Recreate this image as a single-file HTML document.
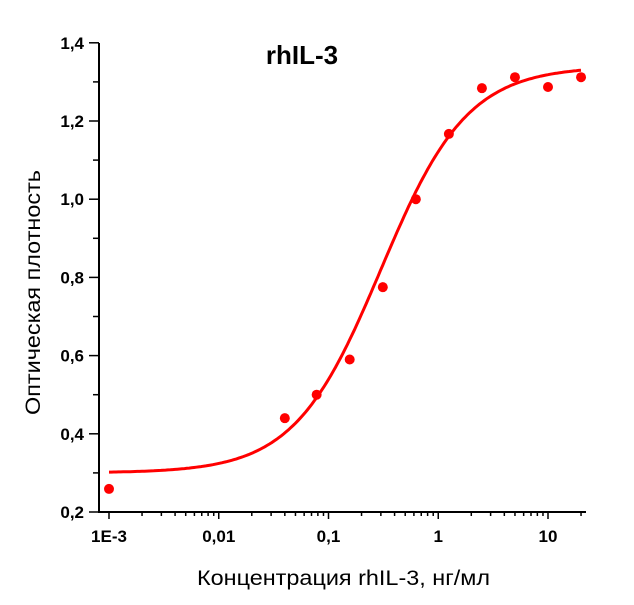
<!DOCTYPE html>
<html><head><meta charset="utf-8"><style>
body{margin:0;background:#fff;}
svg text{font-family:"Liberation Sans",Arial,sans-serif;}
</style></head><body>
<svg id="chart" width="634" height="600" xmlns="http://www.w3.org/2000/svg">
<text x="302" y="64" font-size="26" font-weight="bold" text-anchor="middle">rhIL-3</text>
<text x="197" y="585" font-size="21" textLength="293" lengthAdjust="spacingAndGlyphs">Концентрация rhIL-3, нг/мл</text>
<text transform="translate(40,415) rotate(-90)" font-size="21" textLength="245" lengthAdjust="spacingAndGlyphs">Оптическая плотность</text>
<g id="axes"></g><g id="marks"></g>
</svg>
<script>
const xConc=[0.001,0.04,0.078,0.156,0.3125,0.625,1.25,2.5,5,10,20];
const yOD=[0.259,0.44,0.50,0.59,0.775,1.0,1.167,1.284,1.312,1.287,1.312];
const fitBottom=0.30, fitTop=1.34, fitEC50=0.30, fitHill=1.1;
const xTicks=[0.001,0.01,0.1,1,10];
const xTickLabels=["1E-3","0,01","0,1","1","10"];
const yTicks=[0.2,0.4,0.6,0.8,1.0,1.2,1.4];
const yTickLabels=["0,2","0,4","0,6","0,8","1,0","1,2","1,4"];
const NS="http://www.w3.org/2000/svg";
const X=v=>109+109.75*(Math.log10(v)+3);
const Y=v=>512-(v-0.2)/0.2*78.2;
const ax=document.getElementById('axes'),mk=document.getElementById('marks');
function el(t,a,p){const e=document.createElementNS(NS,t);for(const k in a)e.setAttribute(k,a[k]);p.appendChild(e);return e;}
const xl=el('line',{x1:99,y1:512,x2:586,y2:512,stroke:'#000','stroke-width':2},ax);


const yl=el('line',{x1:99,y1:43,x2:99,y2:513,stroke:'#000','stroke-width':2},ax);


for(let d=-3;d<=1;d++)for(let m=1;m<=9;m++){const v=m*Math.pow(10,d);const x=X(v);if(x>586)break;
 el('line',{x1:x,y1:512,x2:x,y2:m==1?519:516,stroke:'#000','stroke-width':1.5},ax);}
xTicks.forEach((v,i)=>{const t=el('text',{x:X(v),y:542,'font-size':17,'font-weight':'bold','text-anchor':'middle'},ax);t.textContent=xTickLabels[i];
 
 });
yTicks.forEach((v,i)=>{el('line',{x1:89,y1:Y(v),x2:99,y2:Y(v),stroke:'#000','stroke-width':1.5},ax);
 if(i<yTicks.length-1)el('line',{x1:93,y1:Y(v+0.1),x2:99,y2:Y(v+0.1),stroke:'#000','stroke-width':1.5},ax);
 const t=el('text',{x:84,y:Y(v)+6,'font-size':17,'font-weight':'bold','text-anchor':'end'},ax);t.textContent=yTickLabels[i];
 
 });
let d='';for(let i=0;i<=200;i++){const lx=-3+i*(Math.log10(20)+3)/200;const c=Math.pow(10,lx);
 const v=fitBottom+(fitTop-fitBottom)/(1+Math.pow(fitEC50/c,fitHill));d+=(i?'L':'M')+X(c).toFixed(1)+','+Y(v).toFixed(1);}
const fl=el('path',{d:d,fill:'none',stroke:'#f00','stroke-width':3},mk);


xConc.forEach((c,i)=>{const p=el('circle',{cx:X(c),cy:Y(yOD[i]),r:5,fill:'#f00'},mk);
 
 });
</script>
</body></html>
